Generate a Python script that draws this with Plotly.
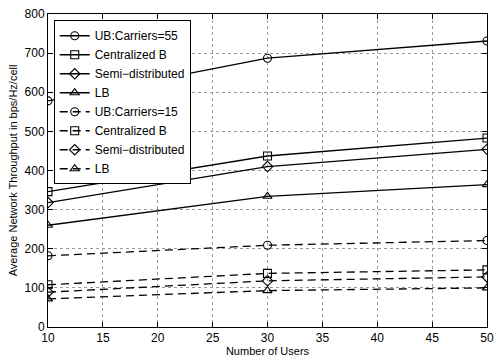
import plotly.graph_objects as go

users = [10, 30, 50]
series_names = ["UB:Carriers=55", "Centralized B", "Semi\u2212distributed", "LB",
                "UB:Carriers=15", "Centralized B", "Semi\u2212distributed", "LB"]
ub_55 = [578, 687, 731]
cb_55 = [346, 437, 483]
semi_55 = [318, 410, 454]
lb_55 = [260, 334, 364]
ub_15 = [182, 209, 221]
cb_15 = [108, 137, 146]
semi_15 = [89, 118, 128]
lb_15 = [72, 93, 100]

values = [ub_55, cb_55, semi_55, lb_55, ub_15, cb_15, semi_15, lb_15]
symbols = ["circle-open", "square-open", "diamond-open", "triangle-up-open"] * 2
dashes = ["solid"] * 4 + ["8px,5px"] * 4

FONT = "Liberation Sans, Arial, Helvetica, sans-serif"

fig = go.Figure()
for name, vals, sym, dash in zip(series_names, values, symbols, dashes):
    fig.add_trace(go.Scatter(
        x=users, y=vals, name=name, mode="lines+markers",
        line=dict(color="black", width=1.3, dash=dash),
        marker=dict(symbol=sym, size=8, color="black", line=dict(width=1.1, color="black")),
    ))

axis_common = dict(
    showline=True, linecolor="black", linewidth=1, mirror="ticks",
    ticks="inside", ticklen=5, tickcolor="black",
    showgrid=True, gridcolor="#9a9a9a", griddash="dot", gridwidth=1,
    zeroline=False, tickfont=dict(family=FONT, size=12, color="black"),
)

fig.update_layout(
    width=501, height=362,
    margin=dict(l=48, r=7, t=9, b=33),
    paper_bgcolor="white", plot_bgcolor="white",
    font=dict(family=FONT, size=12, color="black"),
    xaxis=dict(range=[10, 50], tickvals=[10, 15, 20, 25, 30, 35, 40, 45, 50],
               title=dict(text="Number of Users", font=dict(size=11), standoff=2),
               **axis_common),
    yaxis=dict(range=[0, 800], tickvals=[0, 100, 200, 300, 400, 500, 600, 700, 800],
               title=dict(text="Average Network Throughput in bps/Hz/cell", font=dict(size=11), standoff=4),
               **axis_common),
    legend=dict(x=0.013, y=0.98, xanchor="left", yanchor="top",
                bgcolor="white", bordercolor="black", borderwidth=1,
                font=dict(family=FONT, size=12, color="black"),
                itemwidth=30, tracegroupgap=0),
    showlegend=True,
)

fig.write_html("out.html")
